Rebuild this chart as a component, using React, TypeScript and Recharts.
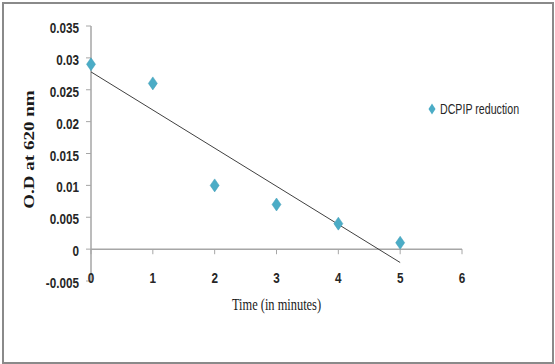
import React from 'react'
import {
  ScatterChart,
  Scatter,
  XAxis,
  YAxis,
  ReferenceLine,
  Legend,
} from 'recharts'

// readings
const timeMinutes = [0, 1, 2, 3, 4, 5]
const odValues = [0.029, 0.026, 0.01, 0.007, 0.004, 0.001]
// linear trendline end points
const trendTime = [0, 5]
const trendOd = [0.0278, -0.0021]

const xTicks = [0, 1, 2, 3, 4, 5, 6]
const yTicks = [-0.005, 0, 0.005, 0.01, 0.015, 0.02, 0.025, 0.03, 0.035]
const yTickLabels = ['-0.005', '0', '0.005', '0.01', '0.015', '0.02', '0.025', '0.03', '0.035']

const seriesName = 'DCPIP reduction'
const xLabel = 'Time (in minutes)'
const yLabel = 'O.D at 620 nm'

const points = timeMinutes.map((t, i) => ({ x: t, y: odValues[i] }))
const trend = trendTime.map((t, i) => ({ x: t, y: trendOd[i] }))

const MARKER = '#4bacc6'
const AXIS = '#a6a6a6'
const sans = '"Liberation Sans", Arial, sans-serif'
const serif = '"Liberation Serif", "Times New Roman", serif'
// the original picture is squeezed sideways, text is drawn narrower to match
const SQUEEZE = 0.78

const Diamond = (props: any) => {
  const { cx, cy } = props
  if (cx == null || cy == null) return null
  const w = 4.5, h = 6.5
  return (
    <polygon
      points={`${cx},${cy - h} ${cx + w},${cy} ${cx},${cy + h} ${cx - w},${cy}`}
      fill={MARKER}
      stroke="#3e9db7"
      strokeWidth={0.5}
    />
  )
}

const NoDot = () => <g />

const XTick = (props: any) => {
  const { x, y, payload } = props
  return (
    <text
      transform={`translate(${x},${y + 1.5}) scale(${SQUEEZE},1)`}
      textAnchor="middle"
      fontFamily={sans}
      fontWeight="bold"
      fontSize={15}
      fill="#262626"
    >
      {payload.value}
    </text>
  )
}

const yFormat = (v: number) => {
  const i = yTicks.findIndex(t => Math.abs(t - v) < 1e-9)
  return i >= 0 ? yTickLabels[i] : String(v)
}

const YTick = (props: any) => {
  const { x, y, payload } = props
  return (
    <text
      transform={`translate(${x},${y + 7}) scale(${SQUEEZE},1)`}
      textAnchor="end"
      fontFamily={sans}
      fontWeight="bold"
      fontSize={15}
      fill="#262626"
    >
      {yFormat(payload.value)}
    </text>
  )
}

const XLabel = (props: any) => {
  const vb = props.viewBox
  return (
    <text
      transform={`translate(${vb.x + vb.width / 2},${vb.y + 29}) scale(0.73,1)`}
      textAnchor="middle"
      fontFamily={serif}
      fontSize={17}
      fill="#1a1a1a"
    >
      {xLabel}
    </text>
  )
}

const YLabel = (props: any) => {
  const vb = props.viewBox
  return (
    <text
      transform={`translate(${vb.x + 24},${vb.y + vb.height / 2 - 4}) rotate(-90) scale(1.27,1)`}
      textAnchor="middle"
      fontFamily={serif}
      fontWeight="bold"
      fontSize={15}
      fill="#1a1a1a"
    >
      {yLabel}
    </text>
  )
}

const LegendBox = () => (
  <div style={{ display: 'flex', alignItems: 'center', whiteSpace: 'nowrap' }}>
    <svg width={8} height={14} style={{ marginRight: 4 }}>
      <polygon points="4,1.5 7.5,7 4,12.5 0.5,7" fill={MARKER} />
    </svg>
    <span
      style={{
        fontFamily: sans,
        fontSize: 14,
        color: '#262626',
        display: 'inline-block',
        transform: `scale(0.76,1)`,
        transformOrigin: 'left center',
      }}
    >
      {seriesName}
    </span>
  </div>
)

export default function App() {
  return (
    <div style={{ position: 'absolute', left: 0, top: 0, width: 555, height: 364, background: '#fff' }}>
      <div
        style={{
          position: 'absolute',
          left: 2,
          top: 2,
          width: 548,
          height: 358,
          border: '2px solid #8a8a8a',
        }}
      />
      <div style={{ position: 'absolute', left: 0, top: 0 }}>
        <ScatterChart width={555} height={364} margin={{ top: 26, right: 93, left: 10, bottom: 43 }}>
          <XAxis
            type="number"
            dataKey="x"
            domain={[0, 6]}
            ticks={xTicks}
            interval={0}
            axisLine={false}
            tickLine={false}
            tickSize={0}
            tickMargin={0}
            tick={<XTick />}
            height={40}
            label={<XLabel />}
          />
          <YAxis
            type="number"
            dataKey="y"
            domain={[-0.005, 0.035]}
            ticks={yTicks}
            interval={0}
            width={81}
            allowDataOverflow
            axisLine={{ stroke: AXIS, strokeWidth: 1.5 }}
            tickLine={{ stroke: AXIS }}
            tickSize={5}
            tickMargin={7}
            tick={<YTick />}
            label={<YLabel />}
          />
          <ReferenceLine y={0} stroke={AXIS} strokeWidth={1.5} />
          {xTicks.map(t => (
            <ReferenceLine
              key={t}
              segment={[{ x: t, y: 0 }, { x: t, y: -0.0008 }]}
              stroke={AXIS}
              strokeWidth={1}
            />
          ))}
          <Legend
            layout="vertical"
            align="center"
            verticalAlign="middle"
            content={<LegendBox />}
            wrapperStyle={{ left: 428, top: 101, width: 'auto' }}
          />
          <Scatter
            name="trend"
            data={trend}
            line={{ stroke: '#404040', strokeWidth: 1 }}
            lineType="joint"
            shape={<NoDot />}
            legendType="none"
            isAnimationActive={false}
          />
          <Scatter name={seriesName} data={points} shape={<Diamond />} isAnimationActive={false} />
        </ScatterChart>
      </div>
    </div>
  )
}
